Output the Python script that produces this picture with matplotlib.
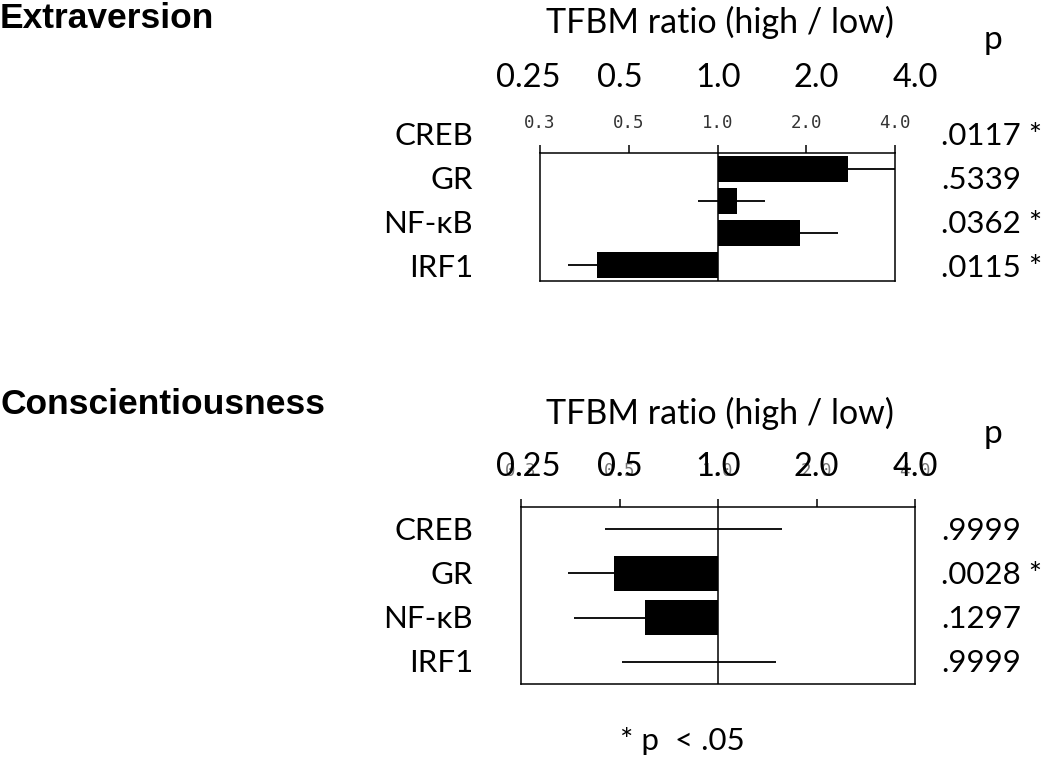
import matplotlib
matplotlib.use("Agg")
import matplotlib.pyplot as plt
import matplotlib.transforms as mtransforms

# transcription factors (rows, top to bottom)
factors = ["CREB", "GR", "NF-\u03baB", "IRF1"]

# Extraversion: TFBM ratio and confidence limits (hidden limits = bar end)
ext_ratio = [2.77, 1.16, 1.90, 0.39]
ext_lo = [2.77, 0.86, 1.90, 0.31]
ext_hi = [4.0, 1.45, 2.57, 0.39]
ext_p = [".0117 *", ".5339", ".0362 *", ".0115 *"]

# Conscientiousness
con_ratio = [1.0, 0.48, 0.60, 1.0]
con_lo = [0.45, 0.347, 0.362, 0.509]
con_hi = [1.57, 0.48, 0.60, 1.50]
con_p = [".9999", ".0028 *", ".1297", ".9999"]

tick_vals = [0.25, 0.5, 1.0, 2.0, 4.0]
small_ticklabels = ["0.3", "0.5", "1.0", "2.0", "4.0"]
big_ticklabels = ["0.25", "0.5", "1.0", "2.0", "4.0"]

W, H = 1050, 762
fig = plt.figure(figsize=(W / 100, H / 100), dpi=100)

def fx(px):
    return px / W

def fy(px):
    return 1 - px / H

sans = ["Lato", "DejaVu Sans"]
TXT = 22.5

def forest(ax, ratio, lo, hi, pad, tick_color):
    ys = list(range(len(ratio)))
    xerr = [[r - l for r, l in zip(ratio, lo)], [h - r for r, h in zip(ratio, hi)]]
    ax.errorbar(ratio, ys, xerr=xerr, fmt="none", ecolor="black", elinewidth=1.3,
                capsize=0, zorder=2)
    ax.barh(ys, [r - 1 for r in ratio], left=1, height=0.8, color="black", zorder=3)
    ax.axvline(1.0, color="black", lw=1.1, zorder=4)
    ax.set_xscale("log")
    ax.set_xlim(0.25, 4.0)
    ax.set_ylim(3.5, -0.5)
    ax.set_yticks([])
    ax.xaxis.set_ticks_position("top")
    ax.set_xticks(tick_vals)
    ax.set_xticklabels(small_ticklabels, family="DejaVu Sans Mono", fontsize=12.5,
                       color=tick_color)
    ax.minorticks_off()
    ax.tick_params(axis="x", direction="out", length=5.8, width=1.1, pad=pad)
    for s in ax.spines.values():
        s.set_linewidth(1.1)

# top panel
ax1 = fig.add_axes([fx(540), fy(281), fx(895 - 540), (281 - 153.3) / H])
forest(ax1, ext_ratio, ext_lo, ext_hi, 9.4, "#333333")

# bottom panel
ax2 = fig.add_axes([fx(521), fy(684.3), fx(915 - 521), (684.3 - 506.7) / H])
forest(ax2, con_ratio, con_lo, con_hi, 13.5, "#777777")

# big tick labels (slide text) aligned on the lower panel scale
blend = mtransforms.blended_transform_factory(ax2.transData, fig.transFigure)
for yy in [78, 467]:
    for v, lab in zip(tick_vals, big_ticklabels):
        fig.text(v * (1.05 if v == 0.25 else 1.0), fy(yy), lab, transform=blend,
                 ha="center", va="center", family=sans, fontsize=23.5)

# headings
fig.text(0.0, fy(28), "Extraversion", family="Liberation Sans", weight="bold",
         fontsize=25.5, ha="left", va="baseline")
fig.text(0.0, fy(414), "Conscientiousness", family="Liberation Sans", weight="bold",
         fontsize=25.5, ha="left", va="baseline")

# axis titles and p headers
fig.text(fx(720), fy(22), "TFBM ratio (high / low)", family=sans, fontsize=24.5,
         ha="center", va="center")
fig.text(fx(720), fy(413), "TFBM ratio (high / low)", family=sans, fontsize=24.5,
         ha="center", va="center")
fig.text(fx(993), fy(49), "p", family=sans, fontsize=24, ha="center", va="baseline")
fig.text(fx(993), fy(443), "p", family=sans, fontsize=24, ha="center", va="baseline")

# row labels and p values
top_rows = [136, 180, 224, 268]
bot_rows = [531, 575, 619, 663]
for name, pv, yy in zip(factors, ext_p, top_rows):
    fig.text(fx(473), fy(yy), name, family=sans, fontsize=TXT, ha="right", va="center")
    fig.text(fx(941), fy(yy), pv, family=sans, fontsize=TXT, ha="left", va="center")
for name, pv, yy in zip(factors, con_p, bot_rows):
    fig.text(fx(473), fy(yy), name, family=sans, fontsize=TXT, ha="right", va="center")
    fig.text(fx(941), fy(yy), pv, family=sans, fontsize=TXT, ha="left", va="center")

fig.text(fx(682), fy(741), "* p  < .05", family=sans, fontsize=TXT, ha="center",
         va="center")

fig.savefig("out.png", dpi=100)
